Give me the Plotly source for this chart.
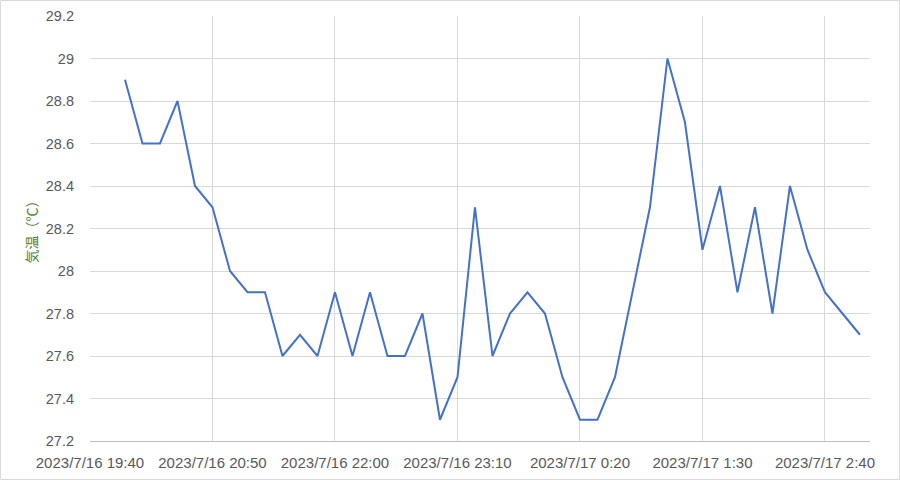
import plotly.graph_objects as go
import pandas as pd

times = pd.date_range("2023-07-16 20:00", "2023-07-17 03:00", freq="10min")
temps = [28.9, 28.6, 28.6, 28.8, 28.4, 28.3, 28.0, 27.9, 27.9, 27.6,
         27.7, 27.6, 27.9, 27.6, 27.9, 27.6, 27.6, 27.8, 27.3, 27.5,
         28.3, 27.6, 27.8, 27.9, 27.8, 27.5, 27.3, 27.3, 27.5, 27.9,
         28.3, 29.0, 28.7, 28.1, 28.4, 27.9, 28.3, 27.8, 28.4, 28.1,
         27.9, 27.8, 27.7]

tick_vals = ["2023-07-16 19:40", "2023-07-16 20:50", "2023-07-16 22:00",
             "2023-07-16 23:10", "2023-07-17 00:20", "2023-07-17 01:30",
             "2023-07-17 02:40"]
tick_text = ["2023/7/16 19:40", "2023/7/16 20:50", "2023/7/16 22:00",
             "2023/7/16 23:10", "2023/7/17 0:20", "2023/7/17 1:30",
             "2023/7/17 2:40"]
y_ticks = [27.2, 27.4, 27.6, 27.8, 28.0, 28.2, 28.4, 28.6, 28.8, 29.0, 29.2]
y_text = ["27.2", "27.4", "27.6", "27.8", "28", "28.2", "28.4", "28.6", "28.8", "29", "29.2"]

fig = go.Figure()
fig.add_trace(go.Scatter(x=times, y=temps, mode="lines",
                         line=dict(color="#4472C4", width=2), showlegend=False))

W, H = 900, 480
ml, mr, mt, mb = 90, 30, 16, 39
pw, ph = W - ml - mr, H - mt - mb

fig.update_layout(
    width=W, height=H,
    margin=dict(l=ml, r=mr, t=mt, b=mb, autoexpand=False),
    plot_bgcolor="white", paper_bgcolor="white",
    font=dict(family="Liberation Sans, sans-serif", size=14, color="#595959"),
    xaxis=dict(range=["2023-07-16 19:40", "2023-07-17 03:05:45"],
               tickvals=tick_vals, ticktext=tick_text, tickangle=0,
               showgrid=True, gridcolor="#D9D9D9", gridwidth=1,
               showline=True, linecolor="#BFBFBF", linewidth=1,
               ticks="", zeroline=False, automargin=False,
               ticklabelstandoff=8,
               tickfont=dict(family="Liberation Sans, sans-serif", size=15, color="#595959")),
    yaxis=dict(range=[27.2, 29.2], tickvals=y_ticks, ticktext=y_text,
               showgrid=True, gridcolor="#D9D9D9", gridwidth=1,
               showline=False, ticks="", zeroline=False, automargin=False,
               ticklabelstandoff=15,
               tickfont=dict(family="Liberation Sans, sans-serif", size=14.5, color="#595959"),
               title=dict(text="気温（℃）", standoff=4,
                          font=dict(family="Noto Sans CJK JP, sans-serif", size=14, color="#548235"))),
    shapes=[dict(type="rect", xref="paper", yref="paper",
                 x0=(-ml + 0.5) / pw, x1=1 + (mr - 0.5) / pw,
                 y0=(-mb + 0.5) / ph, y1=1 + (mt - 0.5) / ph,
                 line=dict(color="#D9D9D9", width=1), layer="below")],
)

fig.write_html("out.html", config={"displayModeBar": False},
               post_script="document.body.style.margin='0';")
